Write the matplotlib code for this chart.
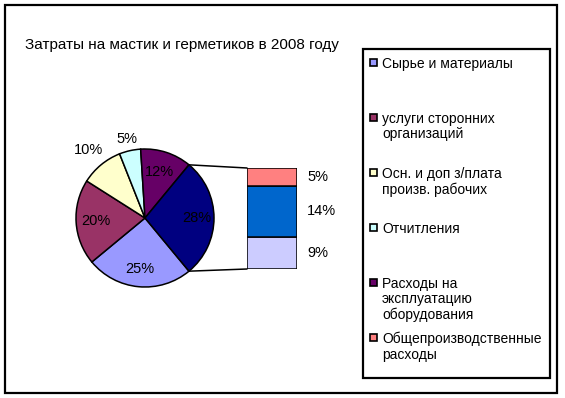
import numpy as np
import matplotlib
matplotlib.use('Agg')
import matplotlib.pyplot as plt
from matplotlib.patches import Rectangle, ConnectionPatch

plt.rcParams['font.family'] = ['Liberation Sans', 'DejaVu Sans']

title = 'Затраты на мастик и герметиков в 2008 году'

# main pie slices (clockwise from lower edge of the "other" slice)
pie_vals   = [25, 20, 10, 5, 12]
pie_colors = ['#9999FF', '#993366', '#FFFFCC', '#CCFFFF', '#660066']
# secondary bar (top to bottom)
bar_vals   = [5, 14, 9]
bar_colors = ['#FF8080', '#0066CC', '#CCCCFF']
other_color = '#000080'

legend_labels = ['Сырье и материалы',
                 'услуги сторонних\nорганизаций',
                 'Осн. и доп з/плата\nпроизв. рабочих',
                 'Отчитления',
                 'Расходы на\nэксплуатацию\nоборудования',
                 'Общепроизводственные\nрасходы']
legend_colors = pie_colors + [bar_colors[0]]

W, H = 565, 398
fig = plt.figure(figsize=(W/100, H/100), dpi=100)

# overlay in pixel coordinates for frame, title and legend
ov = fig.add_axes([0, 0, 1, 1])
ov.set_xlim(0, W)
ov.set_ylim(H, 0)
ov.axis('off')
ov.add_patch(Rectangle((5, 5), 552, 388, fill=False, lw=1.6, ec='black'))
ov.text(25, 45, title, fontsize=11, va='center', ha='left')

ov.add_patch(Rectangle((363, 49), 187, 329, fill=False, lw=1.6, ec='black'))
leg_y = [62, 117, 172, 227, 282, 337]
for lab, col, y in zip(legend_labels, legend_colors, leg_y):
    ov.add_patch(Rectangle((370, y - 3.5), 7, 7, fc=col, ec='black', lw=1.2))
    ov.text(382, y - 5, lab, fontsize=10, va='top', ha='left', linespacing=1.13)

# pie
cx, cy, r = 145, 218, 69
axp = fig.add_axes([(cx - r)/W, (H - cy - r)/H, 2*r/W, 2*r/H])
other = sum(bar_vals)
vals = pie_vals + [other]
cols = pie_colors + [other_color]
start = -other/100*360/2
wedges, _ = axp.pie(vals, colors=cols, startangle=start, counterclock=False,
                    wedgeprops=dict(edgecolor='black', linewidth=1.1))
axp.set_xlim(-1, 1)
axp.set_ylim(-1, 1)
axp.set_aspect('auto')
axp.axis('off')

dists = [0.74, 0.72, 1.28, 1.17, 0.70, 0.75]
for w, v, d in zip(wedges, vals, dists):
    a = np.deg2rad((w.theta1 + w.theta2)/2)
    axp.text(d*np.cos(a), d*np.sin(a), '%d%%' % v, ha='center', va='center',
             fontsize=10.5, clip_on=False)

# bar of the "other" slice
bx0, bx1, by0, by1 = 247, 297, 168, 269
axb = fig.add_axes([bx0/W, (H - by1)/H, (bx1 - bx0)/W, (by1 - by0)/H])
bottom = 0
for v, c in zip(bar_vals[::-1], bar_colors[::-1]):
    axb.bar(0, v, width=1, bottom=bottom, color=c, edgecolor='black', linewidth=1.1)
    axb.text(0.7, bottom + v/2, '%d%%' % v, ha='left', va='center', fontsize=10.5)
    bottom += v
axb.set_xlim(-0.5, 0.5)
axb.set_ylim(0, other)
axb.axis('off')

ow = wedges[-1]
for ang, yb in [(ow.theta1, 0), (ow.theta2, other)]:
    a = np.deg2rad(ang)
    con = ConnectionPatch(xyA=(np.cos(a), np.sin(a)), coordsA=axp.transData,
                          xyB=(-0.5, yb), coordsB=axb.transData,
                          color='black', lw=1.1)
    fig.add_artist(con)

fig.savefig('out.png', dpi=100)
